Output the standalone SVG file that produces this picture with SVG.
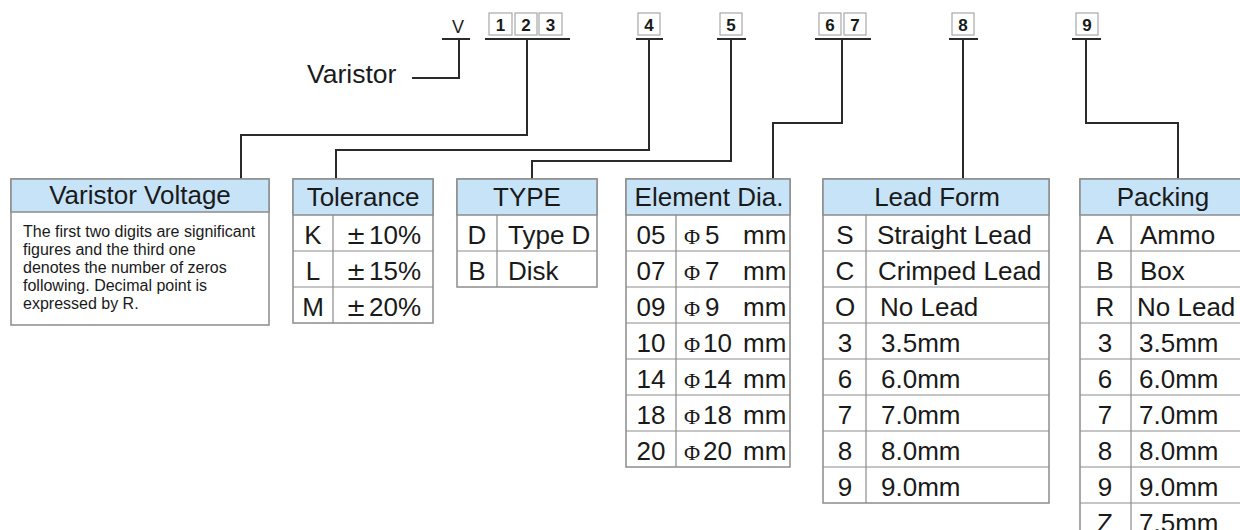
<svg xmlns="http://www.w3.org/2000/svg" width="1240" height="530" viewBox="0 0 1240 530">
<style>
text{font-family:"Liberation Sans",Arial,sans-serif;fill:#1a1a1a}
.code{fill:#fff;stroke:#a8a8a8;stroke-width:1.2}
.codet{font-size:17px;font-weight:bold;text-anchor:middle}
.conn{fill:none;stroke:#2a2a2a;stroke-width:2}
.box{fill:#fff;stroke:#8c8c8c;stroke-width:1.5}
.hdr{fill:#c6e3f7;stroke:#8c8c8c;stroke-width:1.5}
.grid{stroke:#8c8c8c;stroke-width:1.2}
.h{font-size:26px;text-anchor:middle}
.r{font-size:26px}
.c{font-size:26px;text-anchor:middle}
.body{font-size:16px}
.phi{font-family:"Liberation Serif","Times New Roman",serif;font-size:22px}
.pm{font-family:"DejaVu Sans",sans-serif;font-weight:normal;font-size:24px}
</style>

<g id="code-V"><text x="458" y="33" style="font-size:18px;text-anchor:middle">V</text></g>
<g id="code-1"><rect class="code" x="489" y="13" width="23" height="22"/><text class="codet" x="500.5" y="31">1</text></g>
<g id="code-2"><rect class="code" x="515" y="13" width="22" height="22"/><text class="codet" x="526" y="31">2</text></g>
<g id="code-3"><rect class="code" x="539" y="13" width="23" height="22"/><text class="codet" x="550.5" y="31">3</text></g>
<g id="code-4"><rect class="code" x="638" y="13" width="22" height="22"/><text class="codet" x="649" y="31">4</text></g>
<g id="code-5"><rect class="code" x="720" y="13" width="22" height="22"/><text class="codet" x="731" y="31">5</text></g>
<g id="code-6"><rect class="code" x="819" y="13" width="22" height="22"/><text class="codet" x="830" y="31">6</text></g>
<g id="code-7"><rect class="code" x="844" y="13" width="22" height="22"/><text class="codet" x="855" y="31">7</text></g>
<g id="code-8"><rect class="code" x="952" y="13" width="22" height="22"/><text class="codet" x="963" y="31">8</text></g>
<g id="code-9"><rect class="code" x="1076" y="13" width="22" height="22"/><text class="codet" x="1087" y="31">9</text></g>

<g id="label-varistor"><text x="307" y="83" style="font-size:26.5px">Varistor</text></g>

<g id="connectors">
<path class="conn" d="M442 39H470M459 39V78H412"/>
<path class="conn" d="M485 39H570M527 39V135H241V179"/>
<path class="conn" d="M636 39H663M649 39V150H336V179"/>
<path class="conn" d="M717 39H746M731 39V161H532V179"/>
<path class="conn" d="M815 39H871M842 39V123H773V179"/>
<path class="conn" d="M949 39H978M963 39V179"/>
<path class="conn" d="M1072 39H1101M1086 39V123H1178V179"/>
</g>

<g id="varistor-voltage">
<rect class="box" x="11" y="179" width="258" height="146"/>
<rect class="hdr" x="11" y="179" width="258" height="33"/>
<text class="h" x="140" y="204">Varistor Voltage</text>
<text class="body" x="23" y="237">The first two digits are significant</text>
<text class="body" x="23" y="255">figures and the third one</text>
<text class="body" x="23" y="273">denotes the number of zeros</text>
<text class="body" x="23" y="291">following. Decimal point is</text>
<text class="body" x="23" y="309">expressed by R.</text>
</g>

<g id="tolerance">
<rect class="box" x="293" y="179" width="140" height="144"/>
<rect class="hdr" x="293" y="179" width="140" height="36"/>
<path class="grid" d="M293 251H433M293 287H433M333 215V323"/>
<text class="h" x="363" y="206">Tolerance</text>
<text class="c" x="313" y="244">K</text><text class="r" y="244"><tspan class="pm" x="346">±</tspan><tspan x="369">10%</tspan></text>
<text class="c" x="313" y="280">L</text><text class="r" y="280"><tspan class="pm" x="346">±</tspan><tspan x="369">15%</tspan></text>
<text class="c" x="313" y="316">M</text><text class="r" y="316"><tspan class="pm" x="346">±</tspan><tspan x="369">20%</tspan></text>
</g>

<g id="type">
<rect class="box" x="457" y="179" width="140" height="108"/>
<rect class="hdr" x="457" y="179" width="140" height="36"/>
<path class="grid" d="M457 251H597M497 215V287"/>
<text class="h" x="527" y="206">TYPE</text>
<text class="c" x="477" y="244">D</text><text class="r" x="508" y="244">Type D</text>
<text class="c" x="477" y="280">B</text><text class="r" x="508" y="280">Disk</text>
</g>

<g id="element-dia">
<rect class="box" x="626" y="179" width="164" height="288"/>
<rect class="hdr" x="626" y="179" width="164" height="36"/>
<path class="grid" d="M626 251H790M626 287H790M626 323H790M626 359H790M626 395H790M626 431H790M676 215V467"/>
<text class="h" x="709" y="206">Element Dia.</text>
<text class="c" x="651" y="244">05</text><text class="r" y="244"><tspan class="phi" x="684">Φ</tspan><tspan x="705">5</tspan><tspan x="743">mm</tspan></text>
<text class="c" x="651" y="280">07</text><text class="r" y="280"><tspan class="phi" x="684">Φ</tspan><tspan x="705">7</tspan><tspan x="743">mm</tspan></text>
<text class="c" x="651" y="316">09</text><text class="r" y="316"><tspan class="phi" x="684">Φ</tspan><tspan x="705">9</tspan><tspan x="743">mm</tspan></text>
<text class="c" x="651" y="352">10</text><text class="r" y="352"><tspan class="phi" x="684">Φ</tspan><tspan x="703">10</tspan><tspan x="743">mm</tspan></text>
<text class="c" x="651" y="388">14</text><text class="r" y="388"><tspan class="phi" x="684">Φ</tspan><tspan x="703">14</tspan><tspan x="743">mm</tspan></text>
<text class="c" x="651" y="424">18</text><text class="r" y="424"><tspan class="phi" x="684">Φ</tspan><tspan x="703">18</tspan><tspan x="743">mm</tspan></text>
<text class="c" x="651" y="460">20</text><text class="r" y="460"><tspan class="phi" x="684">Φ</tspan><tspan x="703">20</tspan><tspan x="743">mm</tspan></text>
</g>

<g id="lead-form">
<rect class="box" x="823" y="179" width="226" height="324"/>
<rect class="hdr" x="823" y="179" width="226" height="36"/>
<path class="grid" d="M823 251H1049M823 287H1049M823 323H1049M823 359H1049M823 395H1049M823 431H1049M823 467H1049M866 215V503"/>
<text class="h" x="937" y="206">Lead Form</text>
<text class="c" x="845" y="244">S</text><text class="r" x="877" y="244">Straight Lead</text>
<text class="c" x="845" y="280">C</text><text class="r" x="878" y="280">Crimped Lead</text>
<text class="c" x="845" y="316">O</text><text class="r" x="880" y="316">No Lead</text>
<text class="c" x="845" y="352">3</text><text class="r" x="881" y="352">3.5mm</text>
<text class="c" x="845" y="388">6</text><text class="r" x="881" y="388">6.0mm</text>
<text class="c" x="845" y="424">7</text><text class="r" x="881" y="424">7.0mm</text>
<text class="c" x="845" y="460">8</text><text class="r" x="881" y="460">8.0mm</text>
<text class="c" x="845" y="496">9</text><text class="r" x="881" y="496">9.0mm</text>
</g>

<g id="packing">
<rect class="box" x="1080" y="179" width="180" height="360"/>
<rect class="hdr" x="1080" y="179" width="180" height="36"/>
<path class="grid" d="M1080 251H1260M1080 287H1260M1080 323H1260M1080 359H1260M1080 395H1260M1080 431H1260M1080 467H1260M1080 503H1260M1131 215V539"/>
<text class="h" x="1163" y="206">Packing</text>
<text class="c" x="1105" y="244">A</text><text class="r" x="1140" y="244">Ammo</text>
<text class="c" x="1105" y="280">B</text><text class="r" x="1140" y="280">Box</text>
<text class="c" x="1105" y="316">R</text><text class="r" x="1137" y="316">No Lead</text>
<text class="c" x="1105" y="352">3</text><text class="r" x="1139" y="352">3.5mm</text>
<text class="c" x="1105" y="388">6</text><text class="r" x="1139" y="388">6.0mm</text>
<text class="c" x="1105" y="424">7</text><text class="r" x="1139" y="424">7.0mm</text>
<text class="c" x="1105" y="460">8</text><text class="r" x="1139" y="460">8.0mm</text>
<text class="c" x="1105" y="496">9</text><text class="r" x="1139" y="496">9.0mm</text>
<text class="c" x="1105" y="532">Z</text><text class="r" x="1139" y="532">7.5mm</text>
</g>
</svg>
